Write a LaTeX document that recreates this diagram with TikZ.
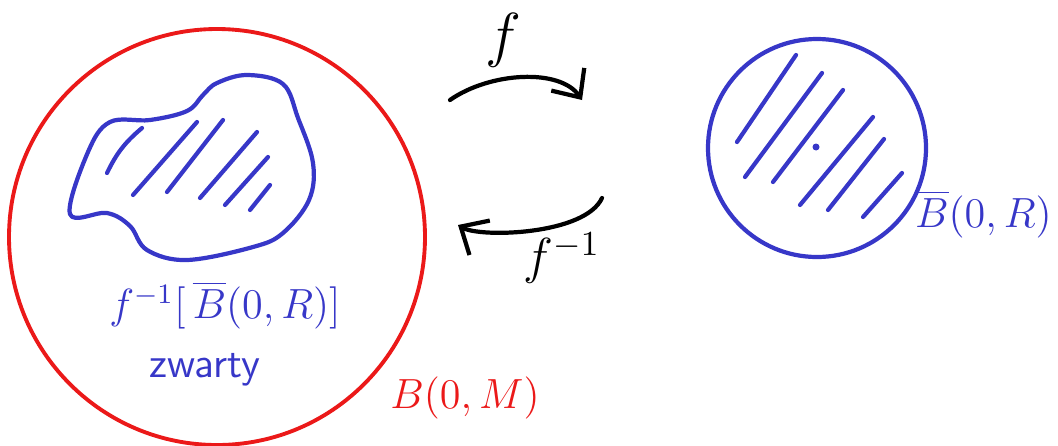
\documentclass[tikz,border=0pt]{standalone}
\usepackage{amsmath}
\usepackage{tikz}
\usetikzlibrary{arrows.meta}
\definecolor{redball}{RGB}{235,25,25}
\definecolor{blueset}{RGB}{55,55,200}

\begin{document}
\begin{tikzpicture}[x=0.01cm, y=-0.01cm, line cap=round, line join=round,
    hatch/.style={draw=blueset, line width=1.2pt},
    maparrow/.style={draw=black, line width=1.2pt, -{Straight Barb[length=2.2mm, width=4mm]}}]
    \useasboundingbox (0,0) rectangle (1058,445);

    % big red ball
    \draw[redball, line width=1.1pt] (217,237) circle (208);
    \node[text=redball, font=\large] (BM) at (465,398) {$B(0,M)$};

    % preimage blob
    \draw[blueset, line width=1.2pt] plot[smooth cycle, tension=0.6] coordinates {
      (70,214) (88,152) (110,122) (150,120) (187,111) (203,95) (217,83) (247,75)
      (283,84) (298,118) (313,163) (309,200) (283,233) (253,247) (187,260)
      (147,250) (130,226) (107,213)};
    \draw[hatch] (107,173) to[bend left=12] (142,128);
    \draw[hatch] (133,195) -- (197,122);
    \draw[hatch] (167,192) -- (223,120);
    \draw[hatch] (200,198) -- (257,132);
    \draw[hatch] (225,205) -- (268,157);
    \draw[hatch] (250,210) -- (270,185);
    \node[text=blueset, font=\large] (pre) at (225,305) {$f^{-1}[\,\overline{B}(0,R)]$};
    \node[text=blueset, font=\large\sffamily] (zw) at (205,370) {zwarty};

    % closed ball on the right
    \draw[blueset, line width=1.2pt] (817,148) circle (109);
    \fill[blueset] (816,147) circle (3.5);
    \draw[hatch] (737,142) -- (796,55);
    \draw[hatch] (745,177) -- (822,73);
    \draw[hatch] (773,182) -- (843,90);
    \draw[hatch] (800,205) -- (873,117);
    \draw[hatch] (828,210) -- (884,139);
    \draw[hatch] (863,217) -- (902,173);
    \node[text=blueset, font=\large, anchor=east, inner sep=1pt] (BR) at (1056,214) {$\overline{B}(0,R)$};

    % maps between them
    \coordinate (fA) at (450,100);
    \coordinate (fB) at (582,100);
    \coordinate (gA) at (602,198);
    \coordinate (gB) at (458,225);
    \draw[maparrow] (fA) .. controls (490,72) and (560,68) .. (fB);
    \node[font=\LARGE] (f) at (503,40) {$f$};
    \draw[maparrow] (gA) .. controls (585,235) and (480,238) .. (gB);
    \node[font=\Large] (finv) at (562,258) {$f^{-1}$};
\end{tikzpicture}
\end{document}
